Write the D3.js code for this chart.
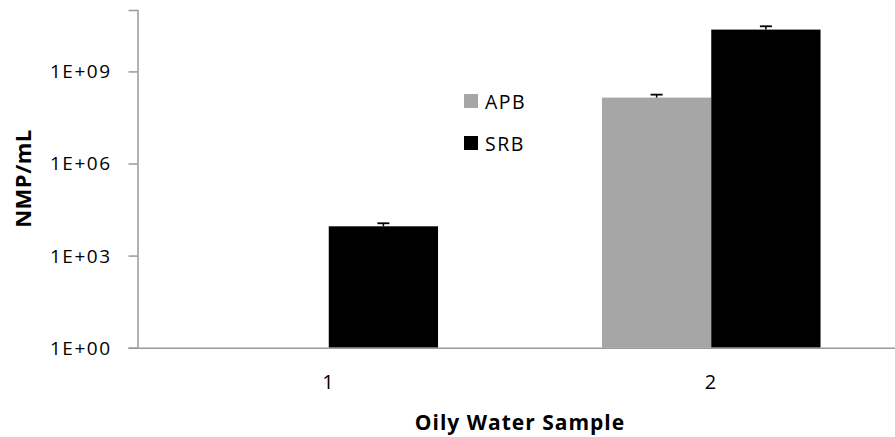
<!DOCTYPE html>
<html>
<head>
<meta charset="utf-8">
<script src="https://cdn.jsdelivr.net/npm/d3@7"></script>
<style>
  html, body { margin: 0; padding: 0; background: #fff; }
  svg { display: block; }
  text { font-family: "Open Sans", "Liberation Sans", sans-serif; fill: #000; }
</style>
</head>
<body>
<svg id="chart" width="895" height="437"></svg>
<script>
// Oily water samples and most-probable-number counts (NMP/mL)
const categories = ["1", "2"];
const seriesNames = ["APB", "SRB"];
const apbValues = [null, 1.4e8];
const apbErrors = [null, 3.5e7];
const srbValues = [9.0e3, 2.3e10];
const srbErrors = [2.3e3, 6.5e9];
const yTickValues = [1e0, 1e3, 1e6, 1e9];
const yTickLabels = ["1E+00", "1E+03", "1E+06", "1E+09"];
const seriesColors = ["#a6a6a6", "#000000"];

const rows = categories.map((c, i) => ({
  category: c,
  bars: [
    { series: "APB", value: apbValues[i], err: apbErrors[i] },
    { series: "SRB", value: srbValues[i], err: srbErrors[i] }
  ]
}));

const svg = d3.select("#chart");
const plotLeft = 137.5, plotRight = 902.5, plotTop = 10, plotBottom = 347.7;

const x = d3.scaleBand().domain(categories).range([plotLeft, plotRight]).padding(0);
const xInner = d3.scaleBand().domain(seriesNames)
  .range([0, x.bandwidth()]).paddingInner(0).paddingOuter(0.75);
const y = d3.scaleLog().domain([1, 1e11]).range([plotBottom, plotTop]);
const color = d3.scaleOrdinal().domain(seriesNames).range(seriesColors);

// Bars
const groups = svg.append("g").selectAll("g")
  .data(rows).join("g")
  .attr("transform", d => `translate(${x(d.category)},0)`);

groups.selectAll("rect")
  .data(d => d.bars.filter(b => b.value != null))
  .join("rect")
  .attr("x", b => xInner(b.series))
  .attr("width", xInner.bandwidth())
  .attr("y", b => y(b.value))
  .attr("height", b => y(1) - y(b.value))
  .attr("fill", b => color(b.series));

// Upper error bars
const errs = groups.selectAll("g.err")
  .data(d => d.bars.filter(b => b.value != null && b.err != null))
  .join("g").attr("class", "err");
errs.append("line")
  .attr("x1", b => xInner(b.series) + xInner.bandwidth() / 2)
  .attr("x2", b => xInner(b.series) + xInner.bandwidth() / 2)
  .attr("y1", b => y(b.value))
  .attr("y2", b => y(b.value + b.err))
  .attr("stroke", "#000").attr("stroke-width", 1.5);
errs.append("line")
  .attr("x1", b => xInner(b.series) + xInner.bandwidth() / 2 - 6)
  .attr("x2", b => xInner(b.series) + xInner.bandwidth() / 2 + 6)
  .attr("y1", b => y(b.value + b.err))
  .attr("y2", b => y(b.value + b.err))
  .attr("stroke", "#000").attr("stroke-width", 1.8);

// Y axis
const yAxis = d3.axisLeft(y)
  .tickValues(yTickValues)
  .tickFormat((d, i) => yTickLabels[i])
  .tickSize(9).tickPadding(17);
const gy = svg.append("g").attr("transform", `translate(${plotLeft},0)`).call(yAxis);
gy.select(".domain").attr("stroke", "#9a9a9a").attr("stroke-width", 1.5);
gy.selectAll(".tick line").attr("stroke", "#9a9a9a").attr("stroke-width", 1.5);
gy.selectAll(".tick text")
  .attr("font-family", "Open Sans").attr("font-size", 19)
  .attr("letter-spacing", "1.5px").attr("dy", "0.34em");

// X axis
const xAxis = d3.axisBottom(x).tickSize(0).tickPadding(27);
const gx = svg.append("g").attr("transform", `translate(0,${plotBottom})`).call(xAxis);
gx.select(".domain").attr("stroke", "#9a9a9a").attr("stroke-width", 1.5);
gx.selectAll(".tick text")
  .attr("font-family", "Open Sans").attr("font-size", 20).attr("letter-spacing", "1.5px");

// Axis titles
svg.append("text")
  .attr("x", (plotLeft + plotRight) / 2).attr("y", 430)
  .attr("text-anchor", "middle")
  .attr("font-size", 21).attr("font-weight", "bold").attr("letter-spacing", "1px")
  .text("Oily Water Sample");

svg.append("text")
  .attr("transform", `translate(31,${178.5}) rotate(-90)`)
  .attr("text-anchor", "middle")
  .attr("font-size", 22).attr("font-weight", "bold").attr("letter-spacing", "0.5px")
  .text("NMP/mL");

// Legend
const legend = svg.append("g").selectAll("g")
  .data(seriesNames).join("g")
  .attr("transform", (d, i) => `translate(464,${94 + i * 42})`);
legend.append("rect").attr("width", 14).attr("height", 14).attr("fill", d => color(d));
legend.append("text")
  .attr("x", 21).attr("y", 14.5)
  .attr("font-size", 19.5).attr("letter-spacing", "1.5px")
  .text(d => d);
</script>
</body>
</html>
